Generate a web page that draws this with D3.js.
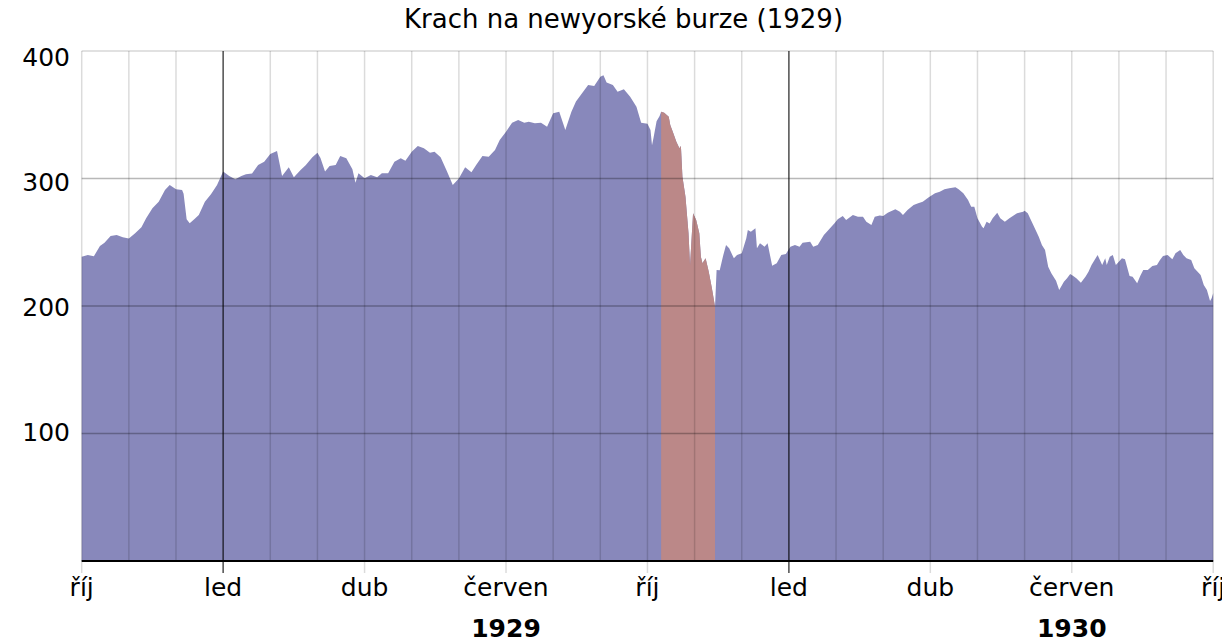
<!DOCTYPE html>
<html>
<head>
<meta charset="utf-8">
<script src="https://cdn.jsdelivr.net/npm/d3@7"></script>
<style>
  body { margin: 0; background: #fff; }
  svg { display: block; font-family: "DejaVu Sans", sans-serif; }
</style>
</head>
<body>
<svg id="chart" width="1222" height="642"></svg>
<script>
// ---------------- DATA ----------------
const chartTitle = "Krach na newyorské burze (1929)";
const startMonth = "1928-10";          // first month on the x axis
const monthCount = 24;                 // Oct 1928 .. Oct 1930
const tickMonths = ["1928-10","1929-01","1929-04","1929-07","1929-10","1930-01","1930-04","1930-07","1930-10"];
const tickLabels = ["říj","led","dub","červen","říj","led","dub","červen","říj"];
const yearMonths = ["1929-07","1930-07"];
const yearLabels = ["1929","1930"];
const yTicks = [100, 200, 300, 400];
const crashStart = "1929-10-10";
const crashEnd = "1929-11-14";

// Dow Jones Industrial Average
const dowJones = [
  ["1928-10-01",238.7],["1928-10-05",240],["1928-10-09",239],["1928-10-13",247],["1928-10-16",249.7],["1928-10-20",254.9],["1928-10-24",255.7],["1928-10-28",253.9],
  ["1928-11-01",253],["1928-11-05",257],["1928-11-09",261.7],["1928-11-12",268.8],["1928-11-16",276.6],["1928-11-20",281.8],["1928-11-24",291],["1928-11-27",295],
  ["1928-12-01",291.5],["1928-12-05",291],["1928-12-06",288],["1928-12-08",268],["1928-12-10",265],["1928-12-13",268],["1928-12-16",271.4],["1928-12-20",281.8],["1928-12-24",287.6],["1928-12-28",295],
  ["1929-01-01",305.4],["1929-01-05",302],["1929-01-09",299.4],["1929-01-13",302],["1929-01-16",303.3],["1929-01-20",304],["1929-01-24",310.6],["1929-01-28",313.2],
  ["1929-02-01",319.2],["1929-02-05",321.6],["1929-02-08",302],["1929-02-12",308.8],["1929-02-15",300.9],["1929-02-19",306.7],["1929-02-22",310.3],["1929-02-26",316.6],
  ["1929-03-01",320.2],["1929-03-03",316],["1929-03-06",305.4],["1929-03-09",309.8],["1929-03-13",310.6],["1929-03-16",317.6],["1929-03-20",315.8],["1929-03-24",307.2],["1929-03-26",296.7],["1929-03-28",304.1],
  ["1929-04-01",300.1],["1929-04-05",302.7],["1929-04-09",300.9],["1929-04-12",304.1],["1929-04-16",304.1],["1929-04-20",313.2],["1929-04-24",315.8],["1929-04-27",314],
  ["1929-05-01",321],["1929-05-05",325.5],["1929-05-09",323.7],["1929-05-13",320.2],["1929-05-16",321],["1929-05-20",316.6],["1929-05-24",306.1],["1929-05-28",295],
  ["1929-06-01",300],["1929-06-05",308.8],["1929-06-09",304.9],["1929-06-12",310.6],["1929-06-16",317.6],["1929-06-20",317.1],["1929-06-24",322.4],["1929-06-27",330.2],
  ["1929-07-01",336.7],["1929-07-05",343.8],["1929-07-09",345.9],["1929-07-13",343.8],["1929-07-16",344.6],["1929-07-20",343.3],["1929-07-24",343.8],["1929-07-28",340.6],
  ["1929-08-01",351.1],["1929-08-05",352.4],["1929-08-09",338],["1929-08-13",352.4],["1929-08-16",360.3],["1929-08-20",366.8],["1929-08-24",373.3],["1929-08-28",372.5],
  ["1929-09-01",379.9],["1929-09-03",381],["1929-09-05",375.2],["1929-09-09",373.3],["1929-09-12",368.1],["1929-09-16",370],["1929-09-20",364.2],["1929-09-24",356.3],["1929-09-27",343.8],
  ["1929-10-01",343],["1929-10-03",338],["1929-10-04",326],["1929-10-05",332],["1929-10-07",345],["1929-10-09",349],
  ["1929-10-10",352.4],["1929-10-12",351.5],["1929-10-15",348.5],["1929-10-16",342],["1929-10-18",335.4],["1929-10-20",328.9],["1929-10-22",323.7],["1929-10-23",325.5],["1929-10-24",301.4],["1929-10-26",285.7],["1929-10-28",257],["1929-10-29",232],["1929-10-31",272.7],
  ["1929-11-02",267.5],["1929-11-04",257],["1929-11-05",238.7],["1929-11-06",233.5],["1929-11-08",237.4],["1929-11-10",226.9],["1929-11-12",213.9],["1929-11-14",199.5],
  ["1929-11-15",228.2],["1929-11-17",228],["1929-11-19",238.7],["1929-11-21",247.8],["1929-11-23",245.2],["1929-11-26",237.4],["1929-11-28",240],
  ["1929-12-01",241.3],["1929-12-04",253.1],["1929-12-05",259.6],["1929-12-07",258.3],["1929-12-10",260.9],["1929-12-11",245.2],["1929-12-13",249.2],["1929-12-16",246.5],["1929-12-18",249.2],["1929-12-21",231.6],["1929-12-24",233.5],["1929-12-27",240],["1929-12-30",240.8],
  ["1930-01-02",246.5],["1930-01-05",247.8],["1930-01-08",246.5],["1930-01-10",249.7],["1930-01-15",250.4],["1930-01-17",246.5],["1930-01-20",247.8],["1930-01-24",255.7],["1930-01-27",259.6],["1930-01-31",265],
  ["1930-02-02",268],["1930-02-05",270.6],["1930-02-07",267.5],["1930-02-11",271.4],["1930-02-14",270],["1930-02-17",270],["1930-02-19",266],["1930-02-22",263.5],["1930-02-24",270],["1930-02-27",271],
  ["1930-03-01",270.6],["1930-03-04",273.2],["1930-03-09",275.8],["1930-03-12",274],["1930-03-14",271.4],["1930-03-17",275.3],["1930-03-21",279.2],["1930-03-24",280.5],["1930-03-27",281.8],["1930-03-31",285.2],
  ["1930-04-04",288.4],["1930-04-07",289.6],["1930-04-10",291.5],["1930-04-13",292.3],["1930-04-17",293.1],["1930-04-19",291.5],["1930-04-22",288.4],["1930-04-25",283.1],["1930-04-27",277.9],["1930-04-29",277.9],
  ["1930-05-01",268.8],["1930-05-04",262.2],["1930-05-05",260.9],["1930-05-07",266.1],["1930-05-09",264.8],["1930-05-11",268.8],["1930-05-14",273.2],["1930-05-16",268.8],["1930-05-19",266.1],["1930-05-22",268.8],["1930-05-27",272.7],["1930-05-31",274],
  ["1930-06-01",274.8],["1930-06-03",272.7],["1930-06-05",267.5],["1930-06-08",259.6],["1930-06-10",254.4],["1930-06-12",247.8],["1930-06-14",243.9],["1930-06-16",230.8],["1930-06-18",225.6],["1930-06-21",219.9],["1930-06-23",212.5],["1930-06-26",219.1],["1930-06-28",221.7],["1930-06-30",225.1],
  ["1930-07-02",223.5],["1930-07-04",221.7],["1930-07-07",218.3],["1930-07-10",223],["1930-07-12",226.9],["1930-07-14",232.2],["1930-07-16",236.1],["1930-07-18",240],["1930-07-21",232.2],["1930-07-23",237.4],["1930-07-24",232.2],["1930-07-26",238.7],["1930-07-28",240],["1930-07-30",232.2],
  ["1930-08-03",237.4],["1930-08-05",236.6],["1930-08-08",223.5],["1930-08-10",223],["1930-08-13",217.8],["1930-08-15",223.5],["1930-08-17",228.2],["1930-08-20",228.2],["1930-08-23",231.4],["1930-08-26",232.2],["1930-08-28",236.1],["1930-08-30",239.2],
  ["1930-09-02",240],["1930-09-05",236.6],["1930-09-07",241.3],["1930-09-10",243.9],["1930-09-12",240],["1930-09-14",237.4],["1930-09-17",236.1],["1930-09-19",229.6],["1930-09-23",224.3],["1930-09-25",216.5],["1930-09-27",212.5],["1930-09-29",204],["1930-09-30",206],
  ["1930-10-01",210]
];

// ---------------- HELPERS ----------------
const [sy, sm] = startMonth.split("-").map(Number);
function monthPos(str) {
  const p = str.split("-").map(Number);
  const yy = p[0], m = p[1], d = p.length > 2 ? p[2] : 1;
  const dim = new Date(yy, m, 0).getDate();
  return (yy - sy) * 12 + (m - sm) + (d - 1) / dim;
}

// ---------------- LAYOUT ----------------
const svg = d3.select("#chart");
const x = d3.scaleLinear().domain([0, monthCount]).range([81.7, 1213.2]);
const y = d3.scaleLinear().domain([0, 400]).range([561, 51]);
// the tick labels of the original sit on a slightly tighter spacing than the grid
const yLabel = d3.scaleLinear().domain([0, 400]).range([556.7, 56.7]);

const pts = dowJones.map(d => ({ t: monthPos(d[0]), v: d[1] }));
const cs = monthPos(crashStart), ce = monthPos(crashEnd);
const crashPts = pts.filter(p => p.t >= cs - 1e-9 && p.t <= ce + 1e-9);

const area = d3.area().x(d => x(d.t)).y0(y(0)).y1(d => y(d.v));

svg.append("path").datum(pts).attr("d", area).attr("fill", "#8888bb");
svg.append("path").datum(crashPts).attr("d", area).attr("fill", "#bb8888");

// horizontal grid
svg.append("g").selectAll("line").data(yTicks).join("line")
  .attr("x1", x(0)).attr("x2", x(monthCount))
  .attr("y1", d => y(d)).attr("y2", d => y(d))
  .attr("stroke", "#000").attr("stroke-opacity", d => d === 400 ? 0.16 : 0.28).attr("stroke-width", 1.5);

// vertical month grid
const tickPos = tickMonths.map(monthPos);
const janPos = tickMonths.filter(m => m.endsWith("-01")).map(monthPos);
const monthLines = d3.range(0, monthCount + 1);
svg.append("g").selectAll("line").data(monthLines.filter(m => !janPos.includes(m))).join("line")
  .attr("x1", d => x(d)).attr("x2", d => x(d))
  .attr("y1", y(400)).attr("y2", y(0))
  .attr("stroke", "#000").attr("stroke-opacity", 0.14).attr("stroke-width", 1.5);

// label ticks below axis (light)
svg.append("g").selectAll("line").data(tickPos.filter(m => !janPos.includes(m))).join("line")
  .attr("x1", d => x(d)).attr("x2", d => x(d))
  .attr("y1", y(0)).attr("y2", y(0) + 12)
  .attr("stroke", "#000").attr("stroke-opacity", 0.14).attr("stroke-width", 1.5);

// January lines (dark)
svg.append("g").selectAll("line").data(janPos).join("line")
  .attr("x1", d => x(d)).attr("x2", d => x(d))
  .attr("y1", y(400)).attr("y2", y(0) + 12)
  .attr("stroke", "#000").attr("stroke-opacity", 0.7).attr("stroke-width", 1.5);

// baseline
svg.append("line").attr("x1", x(0)).attr("x2", x(monthCount))
  .attr("y1", y(0)).attr("y2", y(0)).attr("stroke", "#000").attr("stroke-width", 2);

// y labels
svg.append("g").selectAll("text").data(yTicks).join("text")
  .attr("x", 70).attr("y", d => yLabel(d)).attr("dy", "0.36em")
  .attr("text-anchor", "end").attr("font-size", 25).attr("fill", "#000")
  .text(d => d);

// x labels
svg.append("g").selectAll("text").data(tickLabels).join("text")
  .attr("x", (d, i) => x(tickPos[i])).attr("y", 596)
  .attr("text-anchor", "middle").attr("font-size", 25).attr("fill", "#000")
  .text(d => d);

// year labels
svg.append("g").selectAll("text").data(yearLabels).join("text")
  .attr("x", (d, i) => x(monthPos(yearMonths[i]))).attr("y", 637)
  .attr("text-anchor", "middle").attr("font-size", 25).attr("font-weight", "bold").attr("fill", "#000")
  .text(d => d);

// title
svg.append("text").attr("x", 623.5).attr("y", 28)
  .attr("text-anchor", "middle").attr("font-size", 26).attr("fill", "#000")
  .text(chartTitle);
</script>
</body>
</html>
